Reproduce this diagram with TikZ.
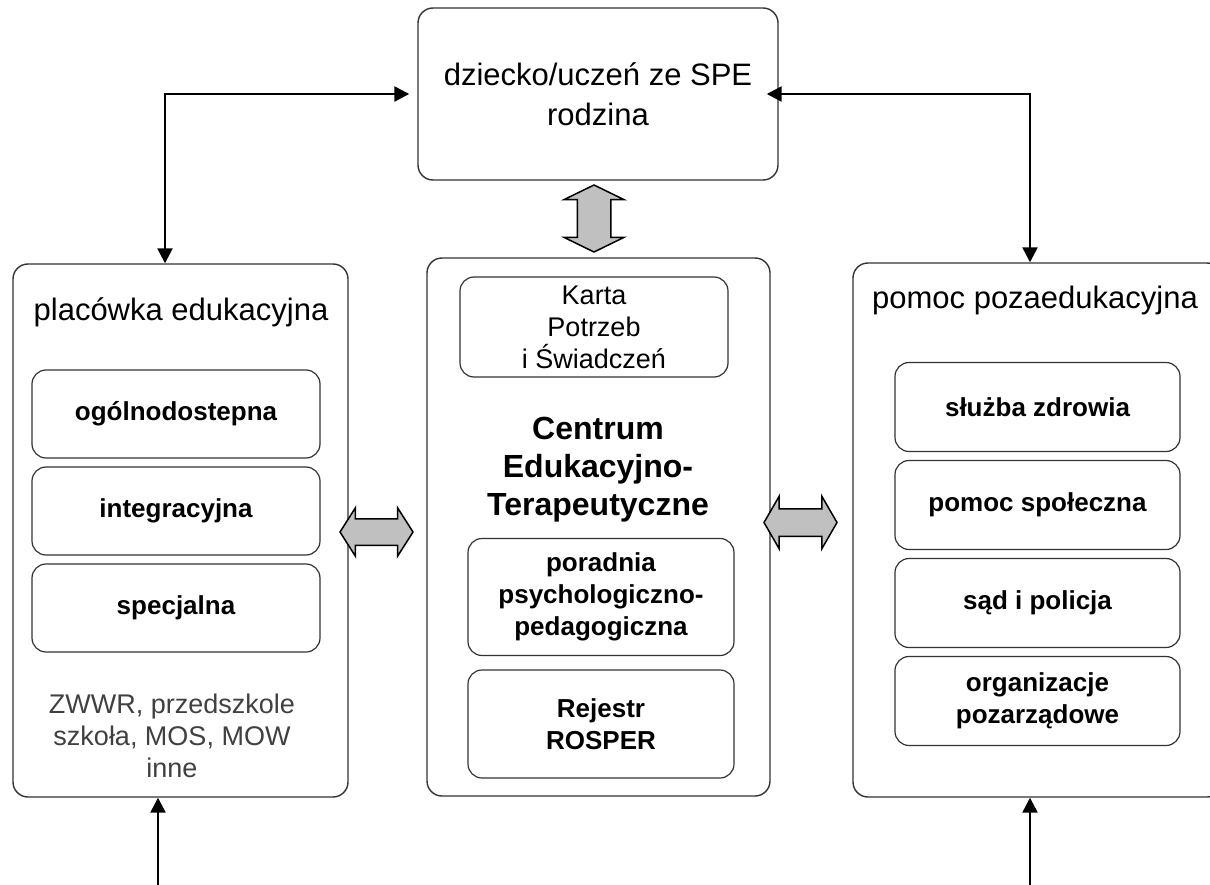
\documentclass[tikz,border=0pt]{standalone}
\usepackage{fontspec}
\setmainfont{Liberation Sans}
\usetikzlibrary{shapes,arrows.meta,positioning,calc}
\definecolor{arrowgray}{HTML}{C0C0C0}
\tikzset{
    panel/.style={rectangle, draw=black!80, rounded corners=15pt, line width=1.4pt},
    itembox/.style={rectangle, draw=black!80, rounded corners=14pt, line width=1.2pt, align=center, font=\fontsize{26}{32}\selectfont\bfseries},
    heading/.style={align=center, font=\fontsize{31}{40}\selectfont},
    line/.style={draw, -{Triangle[length=15pt,width=15pt]}, line width=2.4pt},
    twoway/.style={draw, {Triangle[length=15pt,width=15pt]}-{Triangle[length=15pt,width=15pt]}, line width=2.4pt},
    blockarrow/.style={double arrow, draw, fill=arrowgray, line width=1.5pt, inner xsep=0pt}
}
\begin{document}
\begin{tikzpicture}[x=1pt, y=-1pt]
    \useasboundingbox (0,0) rectangle (1210,885);

    % top: child and family
    \node [panel, heading, minimum width=360pt, minimum height=172pt] (dziecko) at (598,94) {dziecko/uczeń ze SPE\\rodzina};

    % left column
    \node [panel, minimum width=335pt, minimum height=533pt] (placowka) at (180.5,530.5) {};
    \node [heading] (placowkaT) at (181,312) {placówka edukacyjna};
    \node [itembox, minimum width=288pt, minimum height=88pt] (ogolno) at (176,414) {ogólnodostepna};
    \node [itembox, minimum width=288pt, minimum height=88pt, below of=ogolno, node distance=97pt] (integr) {integracyjna};
    \node [itembox, minimum width=288pt, minimum height=88pt, below of=integr, node distance=97pt] (specj) {specjalna};
    \node [align=center, text=black!75, font=\fontsize{27}{32}\selectfont] (inne) at (172,736) {ZWWR, przedszkole\\szkoła, MOS, MOW\\inne};

    % middle column
    \node [panel, minimum width=343pt, minimum height=538pt] (cet) at (598.5,527) {};
    \node [itembox, font=\fontsize{27}{32}\selectfont, minimum width=268pt, minimum height=100pt] (karta) at (594,327) {Karta\\Potrzeb\\i Świadczeń};
    \node [align=center, font=\fontsize{32}{38}\selectfont\bfseries] (centrum) at (598,470) {Centrum\\Edukacyjno-\\Terapeutyczne};
    \node [itembox, minimum width=266pt, minimum height=117pt] (poradnia) at (601,597) {poradnia\\psychologiczno-\\pedagogiczna};
    \node [itembox, minimum width=266pt, minimum height=108pt] (rejestr) at (601,724) {Rejestr\\ROSPER};

    % right column (runs past the right edge)
    \node [panel, minimum width=369pt, minimum height=534pt] (pomoc) at (1037.5,530) {};
    \node [heading] (pomocT) at (1035,300) {pomoc pozaedukacyjna};
    \node [itembox, minimum width=285pt, minimum height=89pt] (zdrowie) at (1037.5,407) {służba zdrowia};
    \node [itembox, minimum width=285pt, minimum height=89pt, below of=zdrowie, node distance=98pt] (spoleczna) {pomoc społeczna};
    \node [itembox, minimum width=285pt, minimum height=89pt, below of=spoleczna, node distance=98pt] (sad) {sąd i policja};
    \node [itembox, minimum width=285pt, minimum height=89pt, below of=sad, node distance=98pt] (ngo) {organizacje\\pozarządowe};

    % grey two-way block arrows
    \node [blockarrow, rotate=90, inner ysep=16pt, minimum height=67pt, double arrow head extend=13pt, double arrow tip angle=128] (gora) at (594,218.5) {};
    \node [blockarrow, inner ysep=12.5pt, minimum height=73pt, double arrow head extend=11pt, double arrow tip angle=115] (lewa) at (376.5,532) {};
    \node [blockarrow, inner ysep=13pt, minimum height=73pt, double arrow head extend=12.5pt, double arrow tip angle=120] (prawa) at (800.5,522.5) {};

    % connectors
    \coordinate (wejscieL) at (158,885);
    \coordinate (wejscieR) at (1030,885);
    \path [twoway] ([xshift=-15.5pt]placowka.north) |- ([xshift=-8pt]dziecko.west);
    \path [twoway] ([xshift=-7.5pt]pomoc.north) |- ([xshift=-12pt]dziecko.east);
    \path [line] (wejscieL) -- (wejscieL |- placowka.south);
    \path [line] (wejscieR) -- (wejscieR |- pomoc.south);
\end{tikzpicture}
\end{document}
